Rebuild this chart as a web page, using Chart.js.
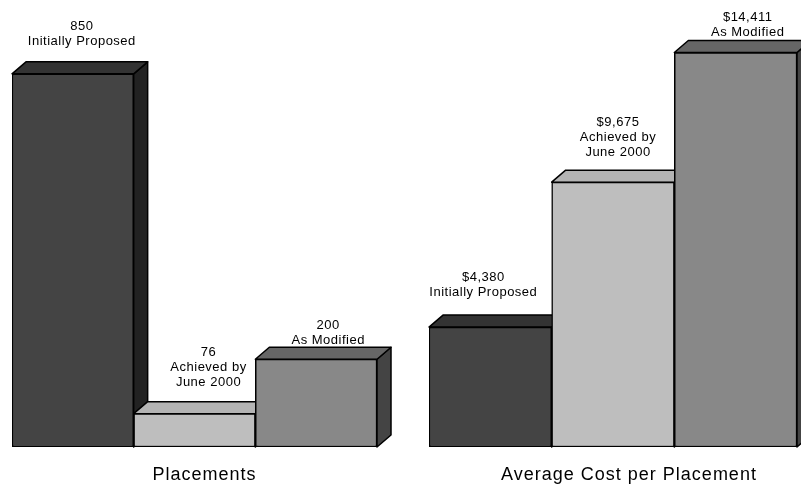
<!DOCTYPE html>
<html>
<head>
<meta charset="utf-8">
<script src="https://cdn.jsdelivr.net/npm/chart.js@4"></script>
<style>
  body { margin: 0; background: #fff; }
  #wrap { position: relative; width: 801px; height: 484px; overflow: hidden; }
  canvas { position: absolute; top: 0; }
  #left { left: 0; }
  #right { left: 400px; }
</style>
</head>
<body>
<div id="wrap">
  <canvas id="left" width="400" height="484"></canvas>
  <canvas id="right" width="401" height="484"></canvas>
</div>
<script>
const categories = ["Initially Proposed", "Achieved by June 2000", "As Modified"];
const labelLines = [["Initially Proposed"], ["Achieved by", "June 2000"], ["As Modified"]];
const placements = [850, 76, 200];
const avgCost = [4380, 9675, 14411];

// depth of the fake 3d boxes
const DX = 14, DY = 12;
const faces = [
  { front: "#444444", top: "#333333", side: "#222222" },
  { front: "#bebebe", top: "#b4b4b4", side: "#9a9a9a" },
  { front: "#888888", top: "#666666", side: "#444444" }
];
const FONT = "'Liberation Sans', Arial, sans-serif";

// label nudges (x from bar centre, y of last line from bar top), hand placed like the original
const leftNudge = [[9, -29], [14, -28], [12, -15]];
const rightNudge = [[-7, -31], [5, -26], [12, -16]];

function makeBox3d(fmt, title, titleDx, nudge) {
  return {
    id: "box3d",
    beforeDatasetsDraw(chart) {
      const ctx = chart.ctx;
      const bars = chart.getDatasetMeta(0).data;
      ctx.save();
      ctx.lineWidth = 1.5;
      ctx.strokeStyle = "#000";
      ctx.lineJoin = "round";
      bars.forEach((bar, i) => {
        const p = bar.getProps(["x", "y", "base", "width"], true);
        const l = p.x - p.width / 2, r = p.x + p.width / 2, t = p.y, b = p.base;
        // side face
        ctx.beginPath();
        ctx.moveTo(r, t);
        ctx.lineTo(r + DX, t - DY);
        ctx.lineTo(r + DX, b - DY);
        ctx.lineTo(r, b);
        ctx.closePath();
        ctx.fillStyle = faces[i].side;
        ctx.fill();
        ctx.stroke();
        // top face
        ctx.beginPath();
        ctx.moveTo(l, t);
        ctx.lineTo(l + DX, t - DY);
        ctx.lineTo(r + DX, t - DY);
        ctx.lineTo(r, t);
        ctx.closePath();
        ctx.fillStyle = faces[i].top;
        ctx.fill();
        ctx.stroke();
      });
      ctx.restore();
    },
    afterDatasetsDraw(chart) {
      const ctx = chart.ctx;
      const bars = chart.getDatasetMeta(0).data;
      const values = chart.data.datasets[0].data;
      ctx.save();
      ctx.fillStyle = "#000";
      ctx.textAlign = "center";
      ctx.textBaseline = "alphabetic";
      ctx.font = "13px " + FONT;
      ctx.letterSpacing = "0.5px";
      const lh = 15;
      bars.forEach((bar, i) => {
        const lines = [fmt(values[i])].concat(labelLines[i]);
        const last = bar.y + nudge[i][1];
        const first = last - lh * (lines.length - 1);
        lines.forEach((s, k) => ctx.fillText(s, bar.x + nudge[i][0], first + k * lh));
      });
      const a = chart.chartArea;
      ctx.font = "18px " + FONT;
      ctx.letterSpacing = "1px";
      ctx.fillText(title, (a.left + a.right) / 2 + titleDx, 480);
      ctx.restore();
    }
  };
}

function makeChart(id, values, yMax, padding, fmt, title, titleDx, nudge) {
  return new Chart(document.getElementById(id), {
    type: "bar",
    data: {
      labels: categories,
      datasets: [{
        data: values,
        backgroundColor: faces.map(f => f.front),
        borderColor: "#000",
        borderWidth: 1.5,
        borderSkipped: false,
        categoryPercentage: 1,
        barPercentage: 1
      }]
    },
    options: {
      responsive: false,
      animation: false,
      layout: { padding: padding },
      plugins: { legend: { display: false }, tooltip: { enabled: false } },
      scales: {
        x: { display: false },
        y: { display: false, min: 0, max: yMax }
      }
    },
    plugins: [makeBox3d(fmt, title, titleDx, nudge)]
  });
}

makeChart("left", placements, 1000, { top: 8, bottom: 37, left: 12, right: 23 },
  v => String(v), "Placements", 10, leftNudge);
makeChart("right", avgCost, 16000, { top: 9, bottom: 37, left: 29, right: 4 },
  v => "$" + v.toLocaleString("en-US"), "Average Cost per Placement", 16, rightNudge);
</script>
</body>
</html>
